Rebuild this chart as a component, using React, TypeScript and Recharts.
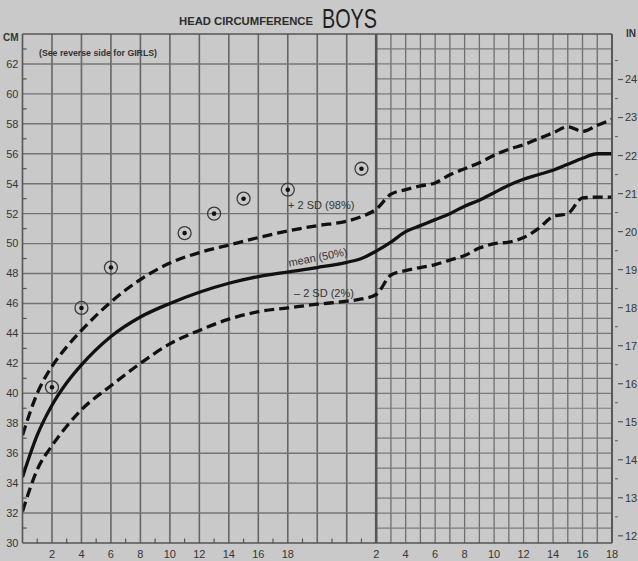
import React from 'react';
import { ComposedChart, Line, Scatter, XAxis, YAxis, ReferenceLine } from 'recharts';

// Horizontal position u: months 0–24 sit at u = month, years 2–18 sit at u = year + 22
const monthTicks = [2, 4, 6, 8, 10, 12, 14, 16, 18];
const monthTickLabels = ['2', '4', '6', '8', '10', '12', '14', '16', '18'];
const yearTicks = [2, 4, 6, 8, 10, 12, 14, 16, 18];
const yearTickLabels = ['2', '4', '6', '8', '10', '12', '14', '16', '18'];
const cmTicks = [30, 32, 34, 36, 38, 40, 42, 44, 46, 48, 50, 52, 54, 56, 58, 60, 62];
const inchTicks = [12, 12.5, 13, 13.5, 14, 14.5, 15, 15.5, 16, 16.5, 17, 17.5, 18, 18.5, 19, 19.5, 20, 20.5, 21, 21.5, 22, 22.5, 23, 23.5, 24, 24.5];

// Reference curves, first two years (months)
const infantMonths = [0, 1, 2, 3, 4, 6, 8, 10, 12, 14, 16, 18, 20, 22, 23];
const infantMean = [34.4, 37.2, 39.2, 40.7, 41.9, 43.8, 45.1, 46.0, 46.75, 47.35, 47.8, 48.1, 48.4, 48.75, 49.0];
const infantPlus2SD = [37.2, 40.0, 41.8, 43.1, 44.2, 46.1, 47.6, 48.7, 49.4, 49.9, 50.4, 50.85, 51.2, 51.5, 51.8];
const infantMinus2SD = [32.1, 34.9, 36.5, 37.8, 38.9, 40.5, 42.0, 43.3, 44.2, 44.95, 45.45, 45.7, 45.95, 46.15, 46.3];

// Reference curves, 2–18 years
const childYears = [2, 3, 4, 5, 6, 7, 8, 9, 10, 11, 12, 13, 14, 15, 16, 17, 18];
const childMean = [49.5, 50.1, 50.8, 51.2, 51.6, 52.0, 52.5, 52.9, 53.4, 53.9, 54.3, 54.6, 54.9, 55.3, 55.7, 56.0, 56.0];
const childPlus2SD = [52.3, 53.3, 53.6, 53.85, 54.05, 54.6, 55.0, 55.4, 55.9, 56.3, 56.6, 57.0, 57.4, 57.8, 57.5, 57.9, 58.3];
const childMinus2SD = [46.6, 47.9, 48.2, 48.4, 48.6, 48.9, 49.2, 49.7, 50.0, 50.1, 50.4, 51.0, 51.8, 52.0, 53.05, 53.1, 53.1];

// Patient measurements (age in months, cm)
const patientMonths = [2, 4, 6, 11, 13, 15, 18, 23];
const patientCm = [40.4, 45.7, 48.4, 50.7, 52.0, 53.0, 53.6, 55.0];

const YEAR_OFFSET = 22;

const curveRows = [
  ...infantMonths.map((m, i) => ({ u: m, mean: infantMean[i], plus: infantPlus2SD[i], minus: infantMinus2SD[i] })),
  ...childYears.map((y, i) => ({ u: y + YEAR_OFFSET, mean: childMean[i], plus: childPlus2SD[i], minus: childMinus2SD[i] })),
];
const patientRows = patientMonths.map((m, i) => ({ u: m, cm: patientCm[i] }));

const xTickPositions = [...monthTicks, ...yearTicks.map((y) => y + YEAR_OFFSET)];
const xTickLabelMap: Record<number, string> = {};
monthTicks.forEach((m, i) => (xTickLabelMap[m] = monthTickLabels[i]));
yearTicks.forEach((y, i) => (xTickLabelMap[y + YEAR_OFFSET] = yearTickLabels[i]));

// grid structure
const monthGridX = [2, 4, 6, 8, 10, 12, 14, 16, 18, 20, 22];
const monthGridY = [32, 34, 36, 38, 40, 42, 44, 46, 48, 50, 52, 54, 56, 58, 60, 62];
const monthMinorX = [1, 3, 5, 7, 9, 11, 13, 15, 17, 19, 21, 23];
const cmMinorY = [31, 33, 35, 37, 39, 41, 43, 45, 47, 49, 51, 53, 55, 57, 59, 61, 63];
const yearGridX = [25, 26, 27, 28, 29, 30, 31, 32, 33, 34, 35, 36, 37, 38, 39];
const yearGridY = [31, 32, 33, 34, 35, 36, 37, 38, 39, 40, 41, 42, 43, 44, 45, 46, 47, 48, 49, 50, 51, 52, 53, 54, 55, 56, 57, 58, 59, 60, 61, 62, 63];

const FONT = '"Liberation Sans", Arial, sans-serif';
const BG = '#c9c9c9';
const TXT = '#363636';

const PatientMark = (props: any) => {
  const { cx, cy } = props;
  if (cx == null || cy == null) return null;
  return (
    <g>
      <circle cx={cx} cy={cy} r={6.5} fill="none" stroke="#3a3a3a" strokeWidth={1.3} />
      <circle cx={cx} cy={cy} r={2.3} fill="#111" />
    </g>
  );
};

const InchTick = (props: any) => {
  const { x, y, payload } = props;
  const v = payload.value;
  const major = Number.isInteger(v);
  return (
    <g>
      {major ? (
        <line x1={x + 6} x2={x + 11} y1={y} y2={y} stroke="#555" strokeWidth={1.2} />
      ) : (
        <line x1={x + 3} x2={x + 6} y1={y} y2={y} stroke="#666" strokeWidth={1.1} />
      )}
      {major && (
        <text x={x + 13} y={y} dy="0.36em" fontSize={11} fill={TXT} fontFamily={FONT}>
          {v}
        </text>
      )}
    </g>
  );
};

export default function App() {
  return (
    <div style={{ position: 'absolute', left: 0, top: 0, width: 638, height: 561, background: BG, overflow: 'hidden' }}>
      <ComposedChart
        width={638}
        height={561}
        data={curveRows}
        margin={{ top: 34, right: 0, bottom: 0, left: 0 }}
      >
        <XAxis
          dataKey="u"
          type="number"
          domain={[0, 40]}
          allowDataOverflow
          ticks={xTickPositions}
          interval={0}
          tickFormatter={(v: number) => xTickLabelMap[v] ?? ''}
          tickLine={false}
          tickSize={4}
          tickMargin={3}
          height={18}
          axisLine={{ stroke: '#555', strokeWidth: 1.6 }}
          tick={{ fontSize: 11, fill: TXT, fontFamily: FONT }}
        />
        <YAxis
          type="number"
          domain={[30, 64]}
          allowDataOverflow
          ticks={cmTicks}
          interval={0}
          width={22.5}
          tickLine={false}
          tickSize={3}
          tickMargin={1}
          axisLine={{ stroke: '#555', strokeWidth: 1.6 }}
          tick={{ fontSize: 11, fill: TXT, fontFamily: FONT }}
        />
        <YAxis
          yAxisId="in"
          orientation="right"
          type="number"
          domain={[30 / 2.54, 64 / 2.54]}
          allowDataOverflow
          ticks={inchTicks}
          interval={0}
          width={26}
          tickLine={false}
          tickSize={0}
          tickMargin={0}
          axisLine={{ stroke: '#555', strokeWidth: 1.6 }}
          tick={<InchTick />}
        />

        {/* month section grid */}
        {monthGridX.map((x) => (
          <ReferenceLine key={'mx' + x} x={x} stroke="#666" strokeWidth={1.6} />
        ))}
        {monthGridY.map((y) => (
          <ReferenceLine key={'my' + y} segment={[{ x: 0, y }, { x: 24, y }]} stroke="#747474" strokeWidth={1.4} />
        ))}
        {/* year section grid */}
        {yearGridX.map((x) => (
          <ReferenceLine key={'yx' + x} x={x} stroke="#6e6e6e" strokeWidth={1.3} />
        ))}
        {yearGridY.map((y) => (
          <ReferenceLine key={'yy' + y} segment={[{ x: 24, y }, { x: 40, y }]} stroke="#7a7a7a" strokeWidth={1.2} />
        ))}
        {/* minor ticks */}
        {monthMinorX.map((x) => (
          <ReferenceLine key={'tx' + x} segment={[{ x, y: 30 }, { x, y: 30.3 }]} stroke="#555" strokeWidth={1.2} />
        ))}
        {cmMinorY.map((y) => (
          <ReferenceLine key={'ty' + y} segment={[{ x: 0, y }, { x: 0.28, y }]} stroke="#555" strokeWidth={1.2} />
        ))}
        {/* borders and section divider */}
        <ReferenceLine y={64} stroke="#555" strokeWidth={1.6} />
        <ReferenceLine x={24} stroke="#555" strokeWidth={2.6} />
        <ReferenceLine x={40} stroke="#555" strokeWidth={1.6} />

        <Line dataKey="plus" type="monotone" stroke="#111" strokeWidth={3.3} strokeDasharray="10 5" dot={false} isAnimationActive={false} />
        <Line dataKey="mean" type="monotone" stroke="#111" strokeWidth={3.3} dot={false} isAnimationActive={false} />
        <Line dataKey="minus" type="monotone" stroke="#111" strokeWidth={3.3} strokeDasharray="10 5" dot={false} isAnimationActive={false} />
        <Scatter data={patientRows} dataKey="cm" shape={<PatientMark />} isAnimationActive={false} />
      </ComposedChart>

      <svg width={638} height={561} style={{ position: 'absolute', left: 0, top: 0, pointerEvents: 'none' }}>
        <text x={179} y={25} fontSize={11.5} fontWeight="bold" fill="#2c2c2c" fontFamily={FONT} textLength={134} lengthAdjust="spacingAndGlyphs">
          HEAD CIRCUMFERENCE
        </text>
        <text x={322} y={28} fontSize={28} fill="#1e1e1e" fontFamily={FONT} textLength={55} lengthAdjust="spacingAndGlyphs">
          BOYS
        </text>
        <text x={3} y={41} fontSize={10} fontWeight="bold" fill={TXT} fontFamily={FONT}>CM</text>
        <text x={626} y={37} fontSize={10} fontWeight="bold" fill={TXT} fontFamily={FONT}>IN</text>
        <text x={39} y={56} fontSize={8.5} fontWeight="bold" fill="#333" fontFamily={FONT} textLength={118} lengthAdjust="spacingAndGlyphs">
          (See reverse side for GIRLS)
        </text>
        <text x={288} y={209} fontSize={11} fill="#333" fontFamily={FONT}>+ 2 SD (98%)</text>
        <text x={318} y={261} fontSize={11} fill="#333" fontFamily={FONT} textAnchor="middle" transform="rotate(-11 318 258)">
          mean (50%)
        </text>
        <text x={294} y={297} fontSize={11} fill="#333" fontFamily={FONT}>– 2 SD (2%)</text>
      </svg>
    </div>
  );
}
